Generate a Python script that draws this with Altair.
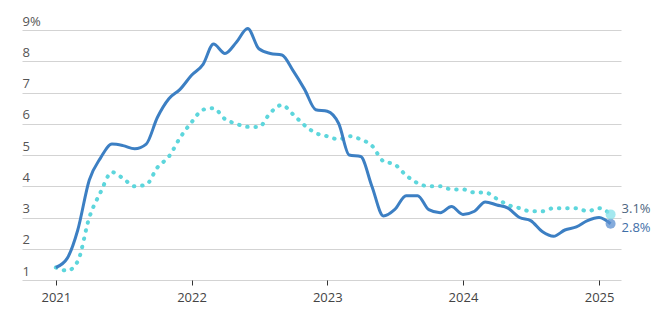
import altair as alt
import pandas as pd

months = [f"{y}-{m:02d}-01" for y in range(2021, 2026) for m in range(1, 13)][:50]

headline = [1.4, 1.7, 2.6, 4.2, 4.9, 5.35, 5.3, 5.2, 5.35, 6.2, 6.8, 7.1,
            7.55, 7.9, 8.55, 8.25, 8.6, 9.05, 8.4, 8.25, 8.2, 7.7, 7.1, 6.45,
            6.4, 6.0, 5.0, 4.95, 4.0, 3.05, 3.25, 3.7, 3.7, 3.25, 3.15, 3.35,
            3.1, 3.2, 3.5, 3.4, 3.3, 3.0, 2.9, 2.55, 2.4, 2.6, 2.7, 2.9,
            3.0, 2.8]
core = [1.4, 1.3, 1.6, 3.0, 3.8, 4.45, 4.25, 4.0, 4.05, 4.6, 4.95, 5.55,
        6.05, 6.45, 6.5, 6.15, 6.0, 5.9, 5.9, 6.35, 6.6, 6.3, 5.95, 5.7,
        5.6, 5.5, 5.6, 5.5, 5.3, 4.8, 4.7, 4.35, 4.1, 4.0, 4.0, 3.9,
        3.9, 3.8, 3.8, 3.6, 3.4, 3.3, 3.2, 3.2, 3.3, 3.3, 3.3, 3.2,
        3.3, 3.1]

end_labels = ["2.8%", "3.1%"]
y_ticks = [1, 2, 3, 4, 5, 6, 7, 8, 9]
x_ticks = [2021, 2022, 2023, 2024, 2025]

HEAD_C = "#3c7fc3"
CORE_C = "#5dd6dc"

df = pd.DataFrame({"date": months, "headline": headline, "core": core})
end_df = pd.DataFrame({
    "date": [months[-1], months[-1]],
    "value": [headline[-1], core[-1]],
    "label": end_labels,
    "series": ["headline", "core"],
})

x_scale = alt.Scale(type="utc",
                    domain=[alt.DateTime(year=2020, month=10, date=2, utc=True),
                            alt.DateTime(year=2025, month=3, date=1, utc=True)])
y_scale = alt.Scale(domain=[1, 9], nice=False, zero=False)

x_axis = alt.Axis(values=[alt.DateTime(year=y, month=1, date=1, utc=True) for y in x_ticks],
                  format="%Y", title=None, grid=False, domain=False,
                  tickColor="#333333", tickSize=5, tickWidth=1,
                  labelFont="Open Sans", labelFontSize=13, labelColor="#444444",
                  labelPadding=6)
y_axis = alt.Axis(values=y_ticks, tickCount=9, title=None, domain=False, ticks=False, tickSize=0,
                  labelAlign="left", labelBaseline="alphabetic", labelPadding=0,
                  labelOffset=-5, labelOverlap=False,
                  labelExpr="datum.value == 9 ? '9%' : datum.label",
                  labelFont="Open Sans", labelFontSize=13, labelColor="#555555",
                  gridColor="#d3d3d3", gridWidth=1)

base = alt.Chart(df)

core_line = base.mark_line(color=CORE_C, strokeWidth=4, strokeDash=[0.5, 7.8],
                           strokeCap="round", interpolate="monotone").encode(
    x=alt.X("date:T", scale=x_scale, axis=x_axis),
    y=alt.Y("core:Q", scale=y_scale, axis=y_axis),
)
head_line = base.mark_line(color=HEAD_C, strokeWidth=3,
                           interpolate="monotone").encode(
    x=alt.X("date:T", scale=x_scale, axis=x_axis),
    y=alt.Y("headline:Q", scale=y_scale, axis=y_axis),
)

ends = alt.Chart(end_df).mark_circle(size=100, opacity=0.75).encode(
    x=alt.X("date:T", scale=x_scale, axis=x_axis),
    y=alt.Y("value:Q", scale=y_scale, axis=y_axis),
    color=alt.Color("series:N", scale=alt.Scale(domain=["headline", "core"],
                                                range=["#5b8fd0", "#86e0ea"]),
                    legend=None),
)

lab_head = alt.Chart(end_df[end_df.series == "headline"]).mark_text(
    align="left", baseline="middle", dx=11, dy=4, font="Open Sans", fontSize=13,
    color="#3f6fa8").encode(
    x=alt.X("date:T", scale=x_scale, axis=x_axis),
    y=alt.Y("value:Q", scale=y_scale, axis=y_axis), text="label:N")
lab_core = alt.Chart(end_df[end_df.series == "core"]).mark_text(
    align="left", baseline="middle", dx=11, dy=-5, font="Open Sans", fontSize=13,
    color="#4d6680").encode(
    x=alt.X("date:T", scale=x_scale, axis=x_axis),
    y=alt.Y("value:Q", scale=y_scale, axis=y_axis), text="label:N")

chart = alt.layer(core_line, head_line, ends, lab_head, lab_core).resolve_axis(
    x="shared", y="shared").properties(
    width=599, height=250,
    autosize=alt.AutoSizeParams(type="none"),
    padding={"left": 22, "top": 30, "right": 40, "bottom": 46},
    background="white",
).configure_view(stroke=None)

chart.save("out.html", embed_options={"renderer": "svg", "actions": False})
